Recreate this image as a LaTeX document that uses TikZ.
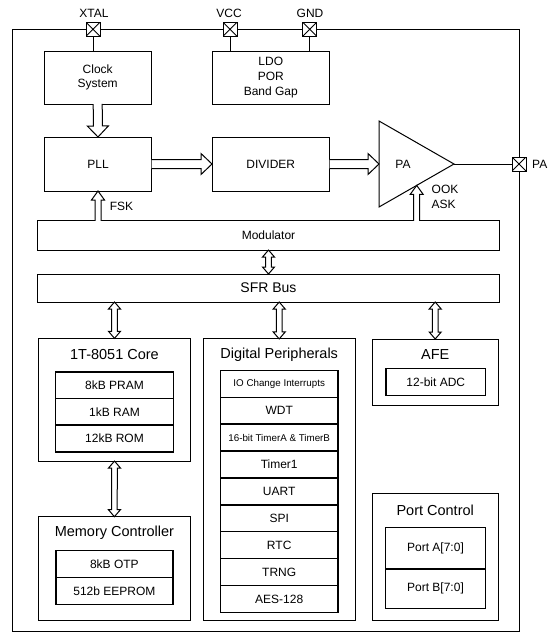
\documentclass[tikz,border=0pt]{standalone}
\usepackage{fontspec}
\setmainfont{Liberation Sans}
\usetikzlibrary{calc}
\newcommand\fmain{\fontsize{12}{14.6}\selectfont}
\newcommand\fttl{\fontsize{14.5}{17}\selectfont}
\newcommand\fsmall{\fontsize{9.8}{11}\selectfont}
\tikzset{
 blk/.style={draw, line width=1pt, inner sep=0pt, outer sep=0pt, align=center, font=\fmain},
 iblk/.style={draw, line width=1.4pt, inner sep=0pt, outer sep=0pt, align=center, font=\fmain},
 ttl/.style={inner sep=0pt, font=\fttl},
 lbl/.style={inner sep=0pt, font=\fmain, align=left},
 pinbox/.style={draw, fill=white, line width=1pt, minimum size=14pt, inner sep=0pt, outer sep=0pt,
   path picture={\draw[line width=0.9pt] (path picture bounding box.north west) -- (path picture bounding box.south east)
     (path picture bounding box.north east) -- (path picture bounding box.south west);}},
 sarrow/.style n args={3}{line width=1pt, fill=white, to path={let \p1=(\tikztostart),\p2=(\tikztotarget),\p3=($(\p2)!#3!(\p1)$) in
   ($(\p1)!#1!90:(\p2)$) -- ($(\p3)!#1!90:(\p2)$) -- ($(\p3)!#2!90:(\p2)$) -- (\p2) -- ($(\p3)!#2!-90:(\p2)$) -- ($(\p3)!#1!-90:(\p2)$) -- ($(\p1)!#1!-90:(\p2)$)}},
 darrow/.style n args={3}{line width=1pt, fill=white, to path={let \p1=(\tikztostart),\p2=(\tikztotarget),\p3=($(\p2)!#3!(\p1)$),\p4=($(\p1)!#3!(\p2)$) in
   (\p1) -- ($(\p4)!#2!90:(\p2)$) -- ($(\p4)!#1!90:(\p2)$) -- ($(\p3)!#1!90:(\p2)$) -- ($(\p3)!#2!90:(\p2)$) -- (\p2) -- ($(\p3)!#2!-90:(\p2)$) -- ($(\p3)!#1!-90:(\p2)$) -- ($(\p4)!#1!-90:(\p2)$) -- ($(\p4)!#2!-90:(\p2)$) -- cycle}},
 bigarrow/.style={sarrow={4.5pt}{10.5pt}{11pt}},
 smallarrow/.style={sarrow={3pt}{6.5pt}{9pt}},
 dblarrow/.style={darrow={2.8pt}{6pt}{7pt}},
 wire/.style={line width=1pt}
}
\begin{document}
\begin{tikzpicture}[x=1pt,y=-1pt]
\useasboundingbox (0,0) rectangle (557,643);
% chip frame
\node[blk, minimum width=506.6pt, minimum height=601.7pt] (chip) at (265.7,330.15) {};
% pins
\node[pinbox] (xtal) at (93,29.3) {};
\node[pinbox] (vcc) at (230,29.3) {};
\node[pinbox] (gnd) at (309.7,29.3) {};
\node[pinbox] (papin) at (519,164) {};
\node[lbl] (xtall) at (94,13) {XTAL};
\node[lbl] (vccl) at (229,13) {VCC};
\node[lbl] (gndl) at (310,13) {GND};
\node[lbl, anchor=west] (pal) at (532,164) {PA};
% top blocks
\node[blk, minimum width=106.6pt, minimum height=53pt] (clk) at (97.7,77.5) {Clock\\System};
\node[blk, minimum width=117.6pt, minimum height=53pt] (ldo) at (270.8,77.5) {LDO\\POR\\Band Gap};
\node[blk, minimum width=107.3pt, minimum height=54pt] (pll) at (98,164) {PLL};
\node[blk, minimum width=117.6pt, minimum height=54pt] (div) at (270.8,164) {DIVIDER};
% PA triangle
\coordinate (pain) at (379,164);
\coordinate (patip) at (454,164);
\coordinate (paok) at (416.7,185.4);
\draw[wire, line join=miter] (379,121) -- (patip) -- (379,207) -- cycle;
\node[lbl] (pat) at (403,164) {PA};
% modulator & bus
\node[blk, minimum width=462.5pt, minimum height=29.3pt] (mod) at (268.5,235.4) {Modulator};
\node[blk, minimum width=462.5pt, minimum height=28pt, font=\fontsize{14}{16}\selectfont] (sfr) at (268.5,288) {SFR Bus};
\node[lbl] (fsk) at (121.5,206.7) {FSK};
\node[lbl, anchor=west] (ook) at (431.5,197) {OOK\\ASK};
% core
\node[blk, minimum width=152.3pt, minimum height=122.7pt] (core) at (114.5,399.7) {};
\node[ttl] (coret) at (114.5,355) {1T-8051 Core};
\node[iblk, minimum width=117.5pt, minimum height=26.7pt] (pram) at (114.5,385.2) {8kB PRAM};
\node[iblk, minimum width=117.5pt, minimum height=26.7pt] (ram) at (114.5,411.8) {1kB RAM};
\node[iblk, minimum width=117.5pt, minimum height=26.7pt] (rom) at (114.5,438.5) {12kB ROM};
% memory controller
\node[blk, minimum width=152.7pt, minimum height=104pt] (mem) at (114.4,568.7) {};
\node[ttl] (memt) at (114.4,532.3) {Memory Controller};
\node[iblk, minimum width=117.2pt, minimum height=26.8pt] (otp) at (114.4,564) {8kB OTP};
\node[iblk, minimum width=117.2pt, minimum height=26.8pt] (eep) at (114.4,590.8) {512b EEPROM};
% digital peripherals
\node[blk, minimum width=152pt, minimum height=281.7pt] (dig) at (279.2,479.8) {};
\node[ttl] (digt) at (279.2,355) {Digital Peripherals};
\foreach \t [count=\i from 0] in {{\fsmall IO Change Interrupts},WDT,{\fsmall 16-bit TimerA \& TimerB},Timer1,UART,SPI,RTC,TRNG,AES-128}{
  \node[iblk, minimum width=117.2pt, minimum height=26.9pt] (dp\i) at (279.2,{383.75+26.9*\i}) {\t};
}
% AFE
\node[blk, minimum width=125.7pt, minimum height=66pt] (afe) at (435.2,372) {};
\node[ttl] (afet) at (435.2,355) {AFE};
\node[iblk, minimum width=99.6pt, minimum height=27pt] (adc) at (435.8,382.2) {12-bit ADC};
% Port control
\node[blk, minimum width=125.7pt, minimum height=127.4pt] (port) at (435.2,557) {};
\node[ttl] (portt) at (435.2,510) {Port Control};
\node[iblk, minimum width=100.2pt, minimum height=41.7pt] (pa7) at (435.5,548.2) {Port A[7:0]};
\node[iblk, minimum width=100.2pt, minimum height=39.3pt] (pb7) at (435.5,588.7) {Port B[7:0]};
% wires
\draw[wire] (xtal.south) -- (xtal.south |- clk.north);
\draw[wire] (vcc.south) -- (vcc.south |- ldo.north);
\draw[wire] (gnd.south) -- (gnd.south |- ldo.north);
\draw[wire] (patip) -- (papin.west);
% block arrows
\draw[bigarrow] (clk.south) to (pll.north);
\draw[bigarrow] (pll.east) to (div.west);
\draw[bigarrow] (div.east) to (pain);
\draw[smallarrow] (pll.south |- mod.north) to (pll.south);
\draw[smallarrow] (paok |- mod.north) to (paok);
\draw[dblarrow] (mod.south) to (sfr.north);
\draw[dblarrow] (core.north |- sfr.south) to (core.north);
\draw[dblarrow] (dig.north |- sfr.south) to (dig.north);
\draw[dblarrow] (afe.north |- sfr.south) to (afe.north);
\draw[dblarrow] (core.south) to (mem.north);
\end{tikzpicture}
\end{document}
